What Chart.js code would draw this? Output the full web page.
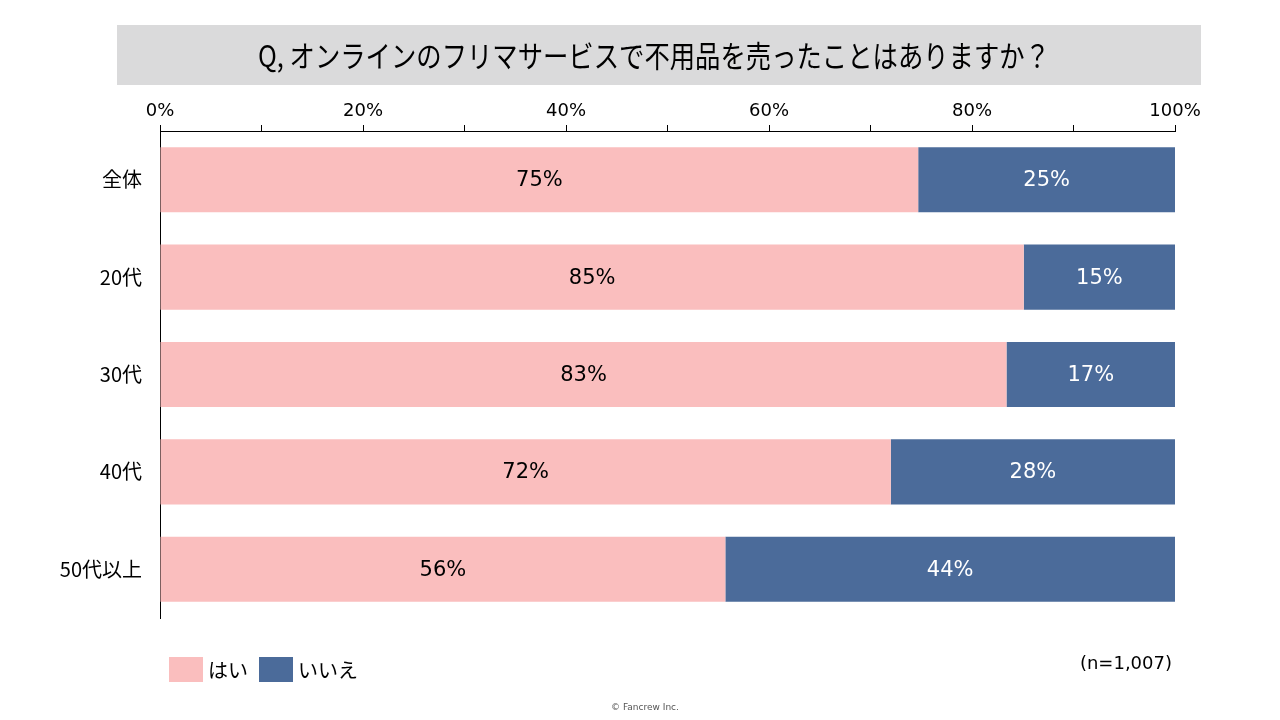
<!DOCTYPE html>
<html>
<head>
<meta charset="utf-8">
<script src="https://cdn.jsdelivr.net/npm/chart.js@4/dist/chart.umd.min.js"></script>
<style>
  html, body { margin: 0; padding: 0; background: #fff; }
  canvas { display: block; }
</style>
</head>
<body>
<canvas id="c" width="1280" height="720"></canvas>
<script>
const categories = ['全体', '20代', '30代', '40代', '50代以上'];
const yesValues = [74.7, 85.1, 83.4, 72.0, 55.7];
const noValues = [25.3, 14.9, 16.6, 28.0, 44.3];
const yesLabels = ['75%', '85%', '83%', '72%', '56%'];
const noLabels = ['25%', '15%', '17%', '28%', '44%'];
const seriesNames = ['はい', 'いいえ'];
const titleText = 'Q, オンラインのフリマサービスで不用品を売ったことはありますか？';
const sampleNote = '(n=1,007)';
const footerText = '© Fancrew Inc.';

const PINK = '#FABEBE';
const BLUE = '#4B6B9A';
const JP = '"Noto Sans CJK JP", "Noto Sans", sans-serif';
const NUM = '"DejaVu Sans", sans-serif';

// title, bar labels, legend and notes
const decorations = {
    id: 'decorations',
    afterDraw(chart) {
        const ctx = chart.ctx;

        // title box
        ctx.save();
        ctx.fillStyle = '#DADADB';
        ctx.fillRect(117, 25, 1084, 60);
        ctx.fillStyle = '#000';
        ctx.font = '30px ' + JP;
        ctx.textBaseline = 'middle';
        ctx.textAlign = 'center';
        const w = ctx.measureText(titleText).width;
        ctx.translate(654, 56);
        ctx.scale(792 / w, 1);
        ctx.fillText(titleText, 0, 0);
        ctx.restore();

        // bar labels
        ctx.save();
        ctx.font = '21px ' + NUM;
        ctx.textAlign = 'center';
        ctx.textBaseline = 'middle';
        [yesLabels, noLabels].forEach((labels, di) => {
            const meta = chart.getDatasetMeta(di);
            ctx.fillStyle = di === 0 ? '#000' : '#fff';
            meta.data.forEach((bar, i) => {
                const cx = (bar.x + bar.base) / 2;
                ctx.fillText(labels[i], cx, bar.y + 1);
            });
        });
        ctx.restore();

        // legend
        ctx.save();
        ctx.font = '20px ' + JP;
        ctx.textBaseline = 'middle';
        ctx.fillStyle = PINK;
        ctx.fillRect(169, 657, 34, 25);
        ctx.fillStyle = BLUE;
        ctx.fillRect(259, 657, 34, 25);
        ctx.fillStyle = '#000';
        ctx.fillText(seriesNames[0], 208, 670);
        ctx.fillText(seriesNames[1], 298, 670);

        // sample size
        ctx.font = '18px ' + NUM;
        ctx.textAlign = 'right';
        ctx.fillText(sampleNote, 1172, 664);

        // footer
        ctx.font = '9px ' + NUM;
        ctx.textAlign = 'center';
        ctx.fillStyle = '#555';
        ctx.fillText(footerText, 645, 708);
        ctx.restore();
    }
};

new Chart(document.getElementById('c'), {
    type: 'bar',
    data: {
        labels: categories,
        datasets: [
            { label: seriesNames[0], data: yesValues, backgroundColor: PINK },
            { label: seriesNames[1], data: noValues, backgroundColor: BLUE }
        ]
    },
    options: {
        indexAxis: 'y',
        responsive: false,
        animation: false,
        layout: { padding: { left: 0, right: 105, top: 0, bottom: 102 } },
        datasets: {
            bar: { categoryPercentage: 0.668, barPercentage: 1.0, borderWidth: 0 }
        },
        plugins: {
            legend: { display: false },
            tooltip: { enabled: false }
        },
        scales: {
            x: {
                position: 'top',
                stacked: true,
                min: 0,
                max: 100,
                afterFit(scale) { scale.height = 131; },
                ticks: {
                    stepSize: 10,
                    autoSkip: false,
                    maxRotation: 0,
                    padding: 3,
                    color: '#000',
                    font: { family: NUM, size: 18 },
                    callback: (v) => (v % 20 === 0 ? v + '%' : '')
                },
                grid: {
                    display: true,
                    drawOnChartArea: false,
                    drawTicks: true,
                    tickLength: 6,
                    color: '#000',
                    lineWidth: 1
                },
                border: { display: true, color: '#000', width: 1 }
            },
            y: {
                stacked: true,
                afterFit(scale) { scale.width = 160; },
                ticks: {
                    padding: 10,
                    color: '#000',
                    font: { family: JP, size: 20 }
                },
                grid: { display: false },
                border: { display: true, color: '#000', width: 1 }
            }
        }
    },
    plugins: [decorations]
});
</script>
</body>
</html>
